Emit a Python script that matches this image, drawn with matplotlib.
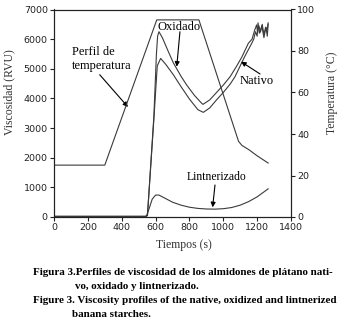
import matplotlib
matplotlib.use("Agg")
import matplotlib.pyplot as plt

# ---- data ----
temp_t = [0, 300, 607, 856, 1090, 1110, 1150, 1200, 1265]
temp_c = [25, 25, 95, 95, 36.5, 34.5, 32.5, 29.5, 26]

oxi_t = [0, 540, 552, 590, 605, 612, 620, 640, 670, 705, 750, 784, 830, 870, 880,
         920, 960, 1000, 1040, 1080, 1110, 1148, 1170, 1185, 1197, 1203, 1210,
         1220, 1230, 1240, 1250, 1258, 1265]
oxi_v = [20, 20, 50, 3400, 5500, 6100, 6250, 6050, 5650, 5200, 4750, 4450, 4100, 3850, 3800,
         3950, 4200, 4450, 4730, 5100, 5400, 5860, 6000, 6300, 6480, 6200, 6450,
         6250, 6500, 6150, 6400, 6300, 6550]

nat_t = [0, 540, 552, 590, 610, 630, 660, 705, 750, 800, 850, 882,
         920, 960, 1000, 1040, 1069, 1100, 1130, 1168, 1180, 1190, 1200, 1205,
         1215, 1228, 1240, 1252, 1260, 1265]
nat_v = [20, 20, 50, 3300, 5100, 5350, 5150, 4800, 4400, 3980, 3620, 3530,
         3680, 3950, 4200, 4480, 4730, 5100, 5450, 5860, 6000, 6250, 6100, 6550,
         6200, 6450, 6050, 6400, 6100, 6500]

lin_t = [0, 545, 560, 580, 600, 620, 650, 700, 750, 800, 850, 900, 950, 1000,
         1050, 1100, 1150, 1200, 1265]
lin_v = [20, 20, 250, 600, 740, 740, 650, 500, 400, 330, 290, 270, 265, 280,
         320, 400, 520, 680, 950]

x_ticks = [0, 200, 400, 600, 800, 1000, 1200, 1400]
y_ticks = [0, 1000, 2000, 3000, 4000, 5000, 6000, 7000]
t_ticks = [0, 20, 40, 60, 80, 100]

caption = [
    ("Figura 3.Perfiles de viscosidad de los almidones de plátano nati-", 0.094, 0.165),
    ("vo, oxidado y lintnerizado.", 0.215, 0.121),
    ("Figure 3. Viscosity profiles of the native, oxidized and lintnerized", 0.094, 0.078),
    ("banana starches.", 0.206, 0.035),
]

# ---- figure ----
W, H = 349, 326
fig = plt.figure(figsize=(W / 100, H / 100), dpi=100)
ax = fig.add_axes([54 / W, 1 - 217 / H, (291 - 54) / W, (217 - 9.5) / H])
ax2 = ax.twinx()

serif = "Liberation Serif"
sans = "DejaVu Sans"
lc = "#3a3a3a"
lw = 0.8

ax.plot(oxi_t, oxi_v, color=lc, lw=lw)
ax.plot(nat_t, nat_v, color=lc, lw=lw)
ax.plot(lin_t, lin_v, color=lc, lw=lw)
ax2.plot(temp_t, temp_c, color=lc, lw=lw)

ax.set_xlim(0, 1400)
ax.set_ylim(0, 7000)
ax2.set_ylim(0, 100)
ax.set_xticks(x_ticks)
ax.set_yticks(y_ticks)
ax2.set_yticks(t_ticks)

for a in (ax, ax2):
    a.tick_params(direction="out", length=3, width=0.8, labelsize=6.8, colors="#222222", pad=1.5)
    for lab in a.get_xticklabels() + a.get_yticklabels():
        lab.set_family(sans)
    for s in a.spines.values():
        s.set_linewidth(0.8)
        s.set_color("#222222")

ax.set_xlabel("Tiempos (s)", family=serif, fontsize=8.5, color="#333333")
ax.xaxis.set_label_coords(0.55, -0.106)
ax.set_ylabel("Viscosidad (RVU)", family=serif, fontsize=8.5, color="#333333")
ax.yaxis.set_label_coords(-0.165, 0.6)
ax2.set_ylabel("Temperatura (°C)", family=serif, fontsize=8.5, color="#333333", rotation=90)
ax2.yaxis.set_label_coords(1.148, 0.6)

ap = dict(arrowstyle="-|>", color="black", lw=0.8, mutation_scale=7, shrinkA=0, shrinkB=0)
ax.annotate("Perfil de\ntemperatura", xy=(437, 3711), xytext=(106, 5330),
            family=serif, fontsize=9, ha="left", va="center", linespacing=1.15,
            arrowprops=None)
ax.annotate("", xy=(437, 3711), xytext=(270, 4800), arrowprops=ap)
ax.annotate("Oxidado", xy=(725, 5070), xytext=(614, 6420),
            family=serif, fontsize=9, ha="left", va="center", arrowprops=None)
ax.annotate("", xy=(725, 5070), xytext=(744, 6250), arrowprops=ap)
ax.annotate("Nativo", xy=(1105, 5240), xytext=(1099, 4588),
            family=serif, fontsize=9, ha="left", va="center", arrowprops=None)
ax.annotate("", xy=(1105, 5240), xytext=(1217, 4825), arrowprops=ap)
ax.annotate("Lintnerizado", xy=(937, 327), xytext=(784, 1340),
            family=serif, fontsize=8.4, ha="left", va="center", arrowprops=None)
ax.annotate("", xy=(937, 327), xytext=(951, 1080), arrowprops=ap)

for txt, x, y in caption:
    fig.text(x, y, txt, family=serif, fontsize=7.9, fontweight="bold", ha="left", va="center")

fig.savefig("out.png", dpi=100)
